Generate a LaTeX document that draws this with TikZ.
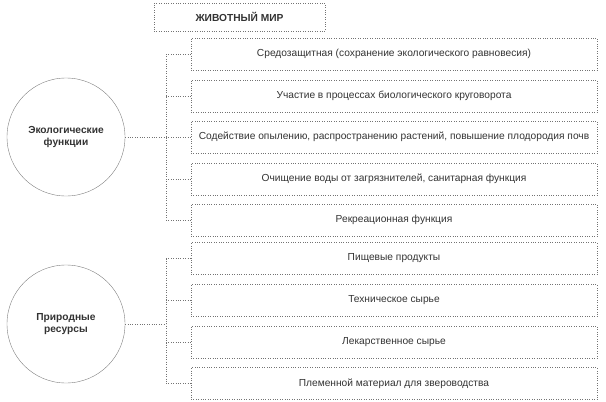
\documentclass[tikz,border=0pt]{standalone}
\usepackage{fontspec}
\setmainfont{Liberation Sans}
\begin{document}
\begin{tikzpicture}[x=1pt, y=-1pt, font=\fontsize{10.2}{12}\selectfont, text=black!80,
	main/.style = {draw=gray, circle, minimum size=118pt, align=center, font=\fontsize{10.2}{12}\selectfont\bfseries},
	box/.style = {draw=black!55, dotted, minimum width=406pt, minimum height=32pt, inner sep=0pt},
	line/.style = {draw=black!55, dotted}]

		\useasboundingbox (0,0) rectangle (606,402);

		\node[draw=black!55, dotted, minimum width=171pt, minimum height=28pt, font=\fontsize{10.2}{12}\selectfont\bfseries] (T) at (239.5,17) {ЖИВОТНЫЙ МИР};

		\node[main] (E) at (66,137) {Экологические\\функции};
		\node[main] (R) at (66,324) {Природные\\ресурсы};

		\node[box] (E1) at (394,54) {Средозащитная (сохранение экологического равновесия)};
		\node[box] (E2) at (394,96) {Участие в процессах биологического круговорота};
		\node[box] (E3) at (394,137) {Содействие опылению, распространению растений, повышение плодородия почв};
		\node[box] (E4) at (394,179) {Очищение воды от загрязнителей, санитарная функция};
		\node[box] (E5) at (394,220) {Рекреационная функция};

		\node[box] (R1) at (394,258.5) {Пищевые продукты};
		\node[box] (R2) at (394,300.5) {Техническое сырье};
		\node[box] (R3) at (394,342) {Лекарственное сырье};
		\node[box] (R4) at (394,383.5) {Племенной материал для звероводства};

		\coordinate (Etop) at (166,54);
		\coordinate (Ebot) at (166,220);
		\coordinate (Rtop) at (166,258.5);
		\coordinate (Rbot) at (166,383.5);

		\draw[line] (Etop) -- (Ebot);
		\draw[line] (Rtop) -- (Rbot);
		\draw[line] (E) -- (E -| Etop);
		\draw[line] (R) -- (R -| Rtop);

		\draw[line] (Etop) -- (E1);
		\draw[line] (E2 -| Etop) -- (E2);
		\draw[line] (E3 -| Etop) -- (E3);
		\draw[line] (E4 -| Etop) -- (E4);
		\draw[line] (Ebot) -- (E5);
		\draw[line] (Rtop) -- (R1);
		\draw[line] (R2 -| Rtop) -- (R2);
		\draw[line] (R3 -| Rtop) -- (R3);
		\draw[line] (Rbot) -- (R4);
	\end{tikzpicture}
\end{document}
